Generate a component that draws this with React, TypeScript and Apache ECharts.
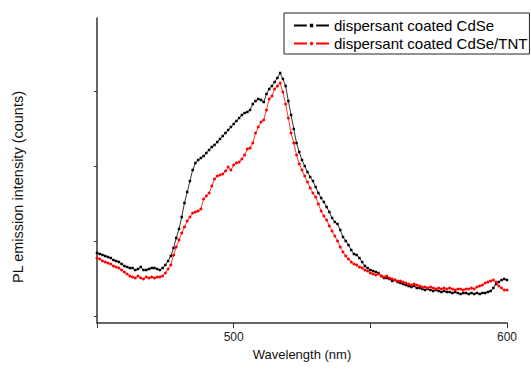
import React, { useEffect, useRef } from "react";
import * as echarts from "echarts";

// Wavelength (nm), 1 nm steps
const wavelengths: number[] = [];
for (let w = 450; w <= 600; w++) wavelengths.push(w);

// PL intensity (a.u.)
const cdse: number[] = [
  70, 69, 68, 67, 66, 65, 63, 62, 61, 59,
  57, 56, 55, 55, 53, 54, 56, 53, 53, 54,
  55, 55, 54, 53, 55, 58, 62, 67, 75, 85,
  94, 106, 120, 131, 142, 153, 160, 163, 165, 167,
  170, 173, 176, 178, 181, 184, 187, 190, 193, 196,
  199, 202, 205, 208, 210, 211, 213, 219, 222, 224,
  223, 221, 229, 234, 237, 241, 245, 250, 244, 237,
  222, 208, 194, 180, 171, 163, 157, 151, 146, 142,
  136, 130, 125, 121, 116, 111, 105, 101, 99, 93,
  86, 82, 78, 73, 69, 68, 65, 61, 57, 55,
  53, 52, 51, 50, 47, 45, 45, 44, 42, 43,
  41, 40, 39, 38, 37, 36, 37, 35, 35, 34,
  33, 34, 33, 32, 33, 32, 31, 32, 31, 31,
  30, 31, 30, 29, 30, 30, 29, 30, 29, 30,
  29, 30, 30, 31, 32, 35, 39, 41, 43, 44,
  43,
];

const cdseTnt: number[] = [
  65, 64, 62, 61, 60, 59, 57, 56, 55, 53,
  51, 49, 47, 46, 45, 47, 45, 44, 46, 45,
  46, 45, 46, 46, 47, 50, 54, 58, 68, 76,
  83, 90, 96, 102, 106, 110, 111, 112, 114, 124,
  127, 130, 137, 144, 147, 148, 149, 152, 156, 153,
  158, 160, 161, 164, 168, 174, 175, 180, 190, 196,
  201, 203, 213, 224, 227, 234, 237, 240, 231, 219,
  205, 190, 180, 168, 159, 153, 147, 141, 135, 130,
  126, 119, 112, 107, 103, 97, 92, 87, 82, 76,
  71, 67, 64, 61, 59, 58, 56, 55, 53, 52,
  50, 49, 48, 49, 47, 46, 47, 45, 44, 43,
  42, 42, 41, 40, 39, 38, 39, 38, 37, 36,
  36, 35, 36, 35, 34, 35, 34, 35, 34, 35,
  34, 33, 34, 34, 33, 34, 34, 35, 34, 36,
  37, 38, 40, 41, 42, 43, 41, 37, 35, 33,
  33,
];

const seriesNames = ["dispersant coated CdSe", "dispersant coated CdSe/TNT"];
const xTickLabels = ["500", "600"];
const yTickValues = [7, 82, 157, 232];

export default function App() {
  const ref = useRef<HTMLDivElement>(null);
  useEffect(() => {
    if (!ref.current) return;
    const chart = echarts.init(ref.current, undefined, { renderer: "svg" });
    const font = "Arial, 'Liberation Sans', sans-serif";
    chart.setOption({
      animation: false,
      backgroundColor: "#ffffff",
      grid: { left: 97, top: 18, width: 410, height: 305, containLabel: false },
      legend: {
        orient: "vertical",
        left: 284,
        top: 13,
        padding: [5, 2, 3, 9],
        itemGap: 3,
        itemWidth: 35,
        itemHeight: 8,
        borderColor: "#222",
        borderWidth: 1,
        itemStyle: { borderColor: "#ffffff", borderWidth: 3 },
        textStyle: { fontFamily: font, fontSize: 15, color: "#000" },
        data: seriesNames,
      },
      xAxis: {
        type: "value",
        min: 450,
        max: 600,
        interval: 50,
        name: "Wavelength (nm)",
        nameLocation: "middle",
        nameGap: 23,
        nameTextStyle: { fontFamily: font, fontSize: 13, color: "#111" },
        axisLine: { show: true, onZero: false, lineStyle: { color: "#333", width: 1.5 } },
        axisTick: { show: true, inside: false, length: 5, lineStyle: { color: "#333", width: 1 } },
        axisLabel: {
          fontFamily: font,
          fontSize: 12,
          color: "#222",
          margin: 8,
          formatter: (v: number) => (xTickLabels.includes(String(v)) ? String(v) : ""),
        },
        splitLine: { show: false },
      },
      yAxis: {
        type: "value",
        min: 0,
        max: 305,
        axisLine: { show: true, lineStyle: { color: "#333", width: 1.5 } },
        axisTick: { show: true, length: 3, customValues: yTickValues, lineStyle: { color: "#333", width: 1 } },
        axisLabel: { show: false },
        splitLine: { show: false },
      },
      graphic: [
        {
          type: "text",
          x: 18,
          y: 187,
          rotation: Math.PI / 2,
          style: {
            text: "PL emission intensity (counts)",
            fontFamily: font,
            fontSize: 14.5,
            fill: "#111",
            align: "center",
            verticalAlign: "middle",
          },
        },
      ],
      series: [
        {
          name: seriesNames[0],
          type: "line",
          data: wavelengths.map((w, i) => [w, cdse[i]]),
          symbol: "rect",
          symbolSize: 2.5,
          showAllSymbol: true,
          lineStyle: { color: "#000", width: 0.8 },
          itemStyle: { color: "#000" },
          z: 2,
        },
        {
          name: seriesNames[1],
          type: "line",
          data: wavelengths.map((w, i) => [w, cdseTnt[i]]),
          symbol: "circle",
          symbolSize: 3,
          showAllSymbol: true,
          lineStyle: { color: "#ff0000", width: 0.8 },
          itemStyle: { color: "#ff0000" },
          z: 3,
        },
      ],
    });
    return () => chart.dispose();
  }, []);
  return (
    <div
      ref={ref}
      style={{ position: "fixed", left: 0, top: 0, width: 531, height: 372, background: "#fff" }}
    />
  );
}
